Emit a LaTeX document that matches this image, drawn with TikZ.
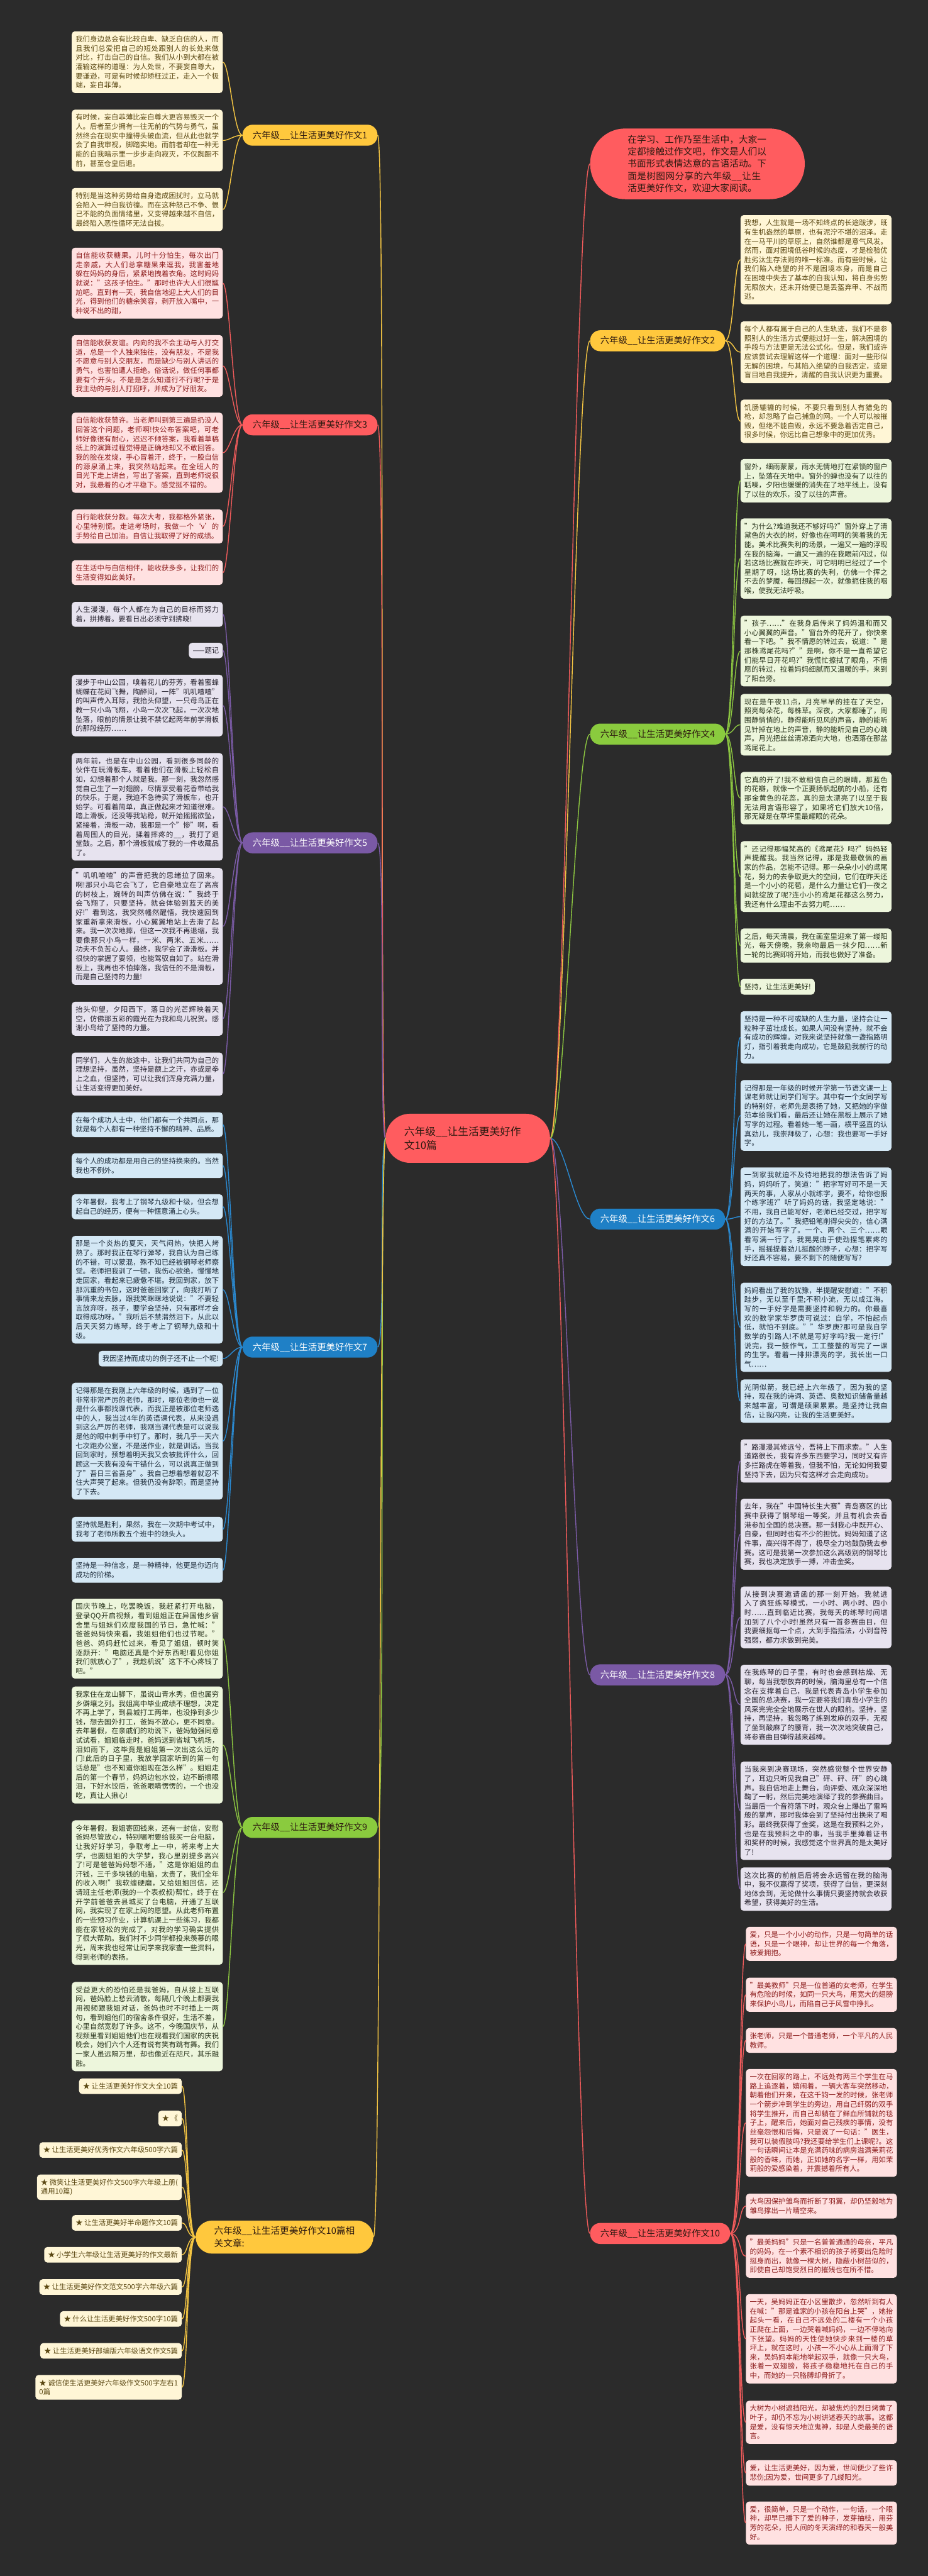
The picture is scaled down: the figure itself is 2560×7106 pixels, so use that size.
\documentclass[tikz,border=0pt]{standalone}
\usepackage{fontspec}
\setmainfont{Noto Sans CJK SC}
\XeTeXlinebreaklocale "zh"
\XeTeXlinebreakskip=0pt plus 1pt
\usepackage{xcolor}
\usetikzlibrary{positioning,calc}

\definecolor{bgdark}{HTML}{2B2B2B}
\definecolor{ybr}{HTML}{FFC83D}
\definecolor{ybox}{HTML}{FFF6D6}
\definecolor{ytxt}{HTML}{5A4712}
\definecolor{ylk}{HTML}{F5C643}
\definecolor{rbr}{HTML}{FF5C5F}
\definecolor{rbox}{HTML}{FFE1E1}
\definecolor{rtxt}{HTML}{8C1C1C}
\definecolor{rlk}{HTML}{F05B5B}
\definecolor{pbr}{HTML}{7A59A5}
\definecolor{pbox}{HTML}{E7E3EF}
\definecolor{ptxt}{HTML}{26222E}
\definecolor{plk}{HTML}{7B5BA7}
\definecolor{bbr}{HTML}{1F80C6}
\definecolor{bbox}{HTML}{D4E8F5}
\definecolor{btxt}{HTML}{1C2B3A}
\definecolor{blk}{HTML}{2A8AD2}
\definecolor{gbr}{HTML}{8ACB3E}
\definecolor{gbox}{HTML}{EDF6DC}
\definecolor{gtxt}{HTML}{27321A}
\definecolor{glk}{HTML}{8CC641}
\definecolor{darkink}{HTML}{2E1A10}

\newcommand{\leaffont}{\fontsize{11.2pt}{14.45pt}\selectfont}
\newcommand{\branchfont}{\fontsize{14.2pt}{19pt}\selectfont}

\tikzset{
  leaf/.style={rounded corners=5pt, text width=225pt, inner xsep=6pt, inner ysep=7pt, align=justify, font=\leaffont},
  chip/.style={rounded corners=5pt, inner xsep=6pt, inner ysep=7pt, font=\leaffont},
  branch/.style={rounded corners=16pt, minimum height=33pt, inner xsep=16pt, font=\branchfont},
  ytone/.style={fill=ybox, text=ytxt},
  rtone/.style={fill=rbox, text=rtxt},
  ptone/.style={fill=pbox, text=ptxt},
  btone/.style={fill=bbox, text=btxt},
  gtone/.style={fill=gbox, text=gtxt},
  link/.style={line width=1.4pt}
}

\begin{document}
\begin{tikzpicture}[x=0.2mm, y=-0.2mm]
\fill[bgdark] (0,0) rectangle (2560,7106);

\node[fill=rbr, text=darkink, rounded corners=38pt, minimum width=258pt, minimum height=77pt, text width=200pt, align=left, font=\fontsize{16.5pt}{22pt}\selectfont] (root) at (1291,3140) {六年级\_\_让生活更美好作\\文10篇};

\node[fill=rbr, text=darkink, rounded corners=55pt, minimum width=337pt, minimum height=111pt, text width=219pt, align=left, font=\fontsize{14.5pt}{19.2pt}\selectfont, anchor=west] (intro) at (1628,452) {在学习、工作乃至生活中，大家一定都接触过作文吧，作文是人们以书面形式表情达意的言语活动。下面是树图网分享的六年级\_\_让生活更美好作文，欢迎大家阅读。};

% left branches
\node[branch, fill=ybr, text=darkink, anchor=east] (e1) at (1042,373) {六年级\_\_让生活更美好作文1};
\node[branch, fill=rbr, text=darkink, anchor=east] (e3) at (1042,1172) {六年级\_\_让生活更美好作文3};
\node[branch, fill=pbr, text=white, anchor=east] (e5) at (1042,2325) {六年级\_\_让生活更美好作文5};
\node[branch, fill=bbr, text=white, anchor=east] (e7) at (1042,3716) {六年级\_\_让生活更美好作文7};
\node[branch, fill=gbr, text=darkink, anchor=east] (e9) at (1042,5041) {六年级\_\_让生活更美好作文9};
\node[fill=ybr, text=darkink, rounded corners=26pt, minimum width=279pt, minimum height=52pt, align=left, font=\fontsize{14.5pt}{19.6pt}\selectfont] (more) at (785,6171) {六年级\_\_让生活更美好作文10篇相\\关文章:};

% right branches
\node[branch, fill=ybr, text=darkink, anchor=west] (e2) at (1628,940) {六年级\_\_让生活更美好作文2};
\node[branch, fill=gbr, text=darkink, anchor=west] (e4) at (1628,2025) {六年级\_\_让生活更美好作文4};
\node[branch, fill=bbr, text=white, anchor=west] (e6) at (1628,3363) {六年级\_\_让生活更美好作文6};
\node[branch, fill=pbr, text=white, anchor=west] (e8) at (1628,4620) {六年级\_\_让生活更美好作文8};
\node[branch, fill=rbr, text=darkink, anchor=west] (e10) at (1628,6161) {六年级\_\_让生活更美好作文10};

\foreach \b/\c in {e1/ylk,e3/rlk,e5/plk,e7/blk,e9/glk,more/ylk}
  \draw[link, \c] (root.west) .. controls +(-18,0) and +(22,0) .. (\b.east);
\foreach \b/\c in {intro/rlk,e2/ylk,e4/glk,e6/blk,e8/plk,e10/rlk}
  \draw[link, \c] (root.east) .. controls +(40,0) and +(-40,0) .. (\b.west);

% essay 1
\node[leaf, ytone, anchor=north east] (e1a) at (615,86) {我们身边总会有比较自卑、缺乏自信的人，而且我们总爱把自己的短处跟别人的长处来做对比，打击自己的自信。我们从小到大都在被灌输这样的道理：为人处世，不要妄自尊大，要谦逊，可是有时候却矫枉过正，走入一个极端，妄自菲薄。};
\node[leaf, ytone, anchor=north east] (e1b) at (615,302) {有时候，妄自菲薄比妄自尊大更容易毁灭一个人。后者至少拥有一往无前的气势与勇气，虽然终会在现实中撞得头破血流，但从此也就学会了自我审视，脚踏实地。而前者却在一种无能的自我暗示里一步步走向寂灭，不仅踟蹰不前，甚至仓皇后退。};
\node[leaf, ytone, anchor=north east] (e1c) at (615,518) {特别是当这种劣势给自身造成困扰时，立马就会陷入一种自我彷徨。而在这种怒己不争、恨己不能的负面情绪里，又变得越来越不自信，最终陷入恶性循环无法自拔。};

% essay 3
\node[leaf, rtone, anchor=north east] (e3a) at (615,683) {自信能收获糖果。儿时十分怕生，每次出门走亲戚，大人们总拿糖果来逗我，我害羞地躲在妈妈的身后，紧紧地拽着衣角。这时妈妈就说："这孩子怕生。"那时也许大人们很尴尬吧。直到有一天，我自信地迎上大人们的目光，得到他们的糖余笑容，剥开放入嘴中，一种说不出的甜，};
\node[leaf, rtone, anchor=north east] (e3b) at (615,924) {自信能收获友谊。内向的我不会主动与人打交道，总是一个人独来独往，没有朋友，不是我不愿意与别人交朋友，而是缺少与别人讲话的勇气，也害怕遭人拒绝。俗话说，做任何事都要有个开头，不是是怎么知道行不行呢?于是我主动的与别人打招呼，并成为了好朋友。};
\node[leaf, rtone, anchor=north east] (e3c) at (615,1138) {自信能收获赞许。当老师叫到第三遍是扔没人回答这个问题，老师啊!快公布答案吧，可老师好像很有耐心，迟迟不倾答案，我看着草稿纸上的演算过程觉得是正确地却又不敢回答。我的脸在发烧，手心冒着汗，终于，一股自信的源泉涌上来，我突然站起来。在全班人的目光下走上讲台，写出了答案，直到老师说很对，我悬着的心才平稳下。感觉挺不错的。};
\node[leaf, rtone, anchor=north east] (e3d) at (615,1405) {自行能收获分数。每次大考，我都格外紧张，心里特别慌。走进考场时，我做一个‘v’的手势给自己加油。自信让我取得了好的成绩。};
\node[leaf, rtone, anchor=north east] (e3e) at (615,1545) {在生活中与自信相伴，能收获多多，让我们的生活变得如此美好。};

% essay 5
\node[leaf, ptone, anchor=north east] (e5a) at (615,1660) {人生漫漫，每个人都在为自己的目标而努力着，拼搏着。要看日出必须守到拂晓!};
\node[chip, ptone, anchor=north east] (e5b) at (615,1773) {——题记};
\node[leaf, ptone, anchor=north east] (e5c) at (615,1861) {漫步于中山公园，嗅着花儿的芬芳，看着蜜蜂蝴蝶在花间飞舞，陶醉间，一阵"叽叽喳喳"的叫声传入耳际，我抬头仰望，一只母鸟正在教一只小鸟飞翔，小鸟一次次飞起，一次次地坠落，眼前的情景让我不禁忆起两年前学滑板的那段经历……};
\node[leaf, ptone, anchor=north east] (e5d) at (615,2077) {两年前，也是在中山公园，看到很多同龄的伙伴在玩滑板车。看着他们在滑板上轻松自如，幻想着那个人就是我。那一刻，我忽然感觉自己生了一对翅膀，尽情享受着花香带给我的快乐，于是，我迫不急待买了滑板车，也开始学。可看着简单，真正做起来才知道很难。踏上滑板，还没等我站稳，就开始摇摇欲坠，紧接着，滑板一动，我那是一个"惨"啊，看着周围人的目光，揉着摔疼的\_\_，我打了退堂鼓。之后，那个滑板就成了我的一件收藏品了。};
\node[leaf, ptone, anchor=north east] (e5e) at (615,2394) {"叽叽喳喳"的声音把我的思绪拉了回来。啊!那只小鸟它会飞了，它自豪地立在了高高的树枝上，婉转的叫声仿佛在说："我终于会飞翔了，只要坚持，就会体验到蓝天的美好!"看到这，我突然幡然醒悟，我快速回到家重新拿来滑板，小心翼翼地站上去滑了起来。我一次次地摔，但这一次我不再退缩，我要像那只小鸟一样，一米、两米、五米……功夫不负苦心人。最终，我学会了滑滑板。并很快的掌握了要领，也能驾驭自如了。站在滑板上，我再也不怕摔落，我信任的不是滑板，而是自己坚持的力量!};
\node[leaf, ptone, anchor=north east] (e5f) at (615,2763) {抬头仰望，夕阳西下，落日的光芒辉映着天空，仿佛那五彩的霞光在为我和鸟儿祝贺。感谢小鸟给了坚持的力量。};
\node[leaf, ptone, anchor=north east] (e5g) at (615,2903) {同学们，人生的旅途中，让我们共同为自己的理想坚持，虽然，坚持是额上之汗，亦或是拳上之血，但坚持，可以让我们浑身充满力量，让生活变得更加美好。};

% essay 7
\node[leaf, btone, anchor=north east] (e7a) at (615,3068) {在每个成功人士中，他们都有一个共同点，那就是每个人都有一种坚持不懈的精神、品质。};
\node[leaf, btone, anchor=north east] (e7b) at (615,3181) {每个人的成功都是用自己的坚持换来的。当然我也不例外。};
\node[leaf, btone, anchor=north east] (e7c) at (615,3294) {今年暑假，我考上了钢琴九级和十级，但会想起自己的经历，便有一种惬意涌上心头。};
\node[leaf, btone, anchor=north east] (e7d) at (615,3409) {那是一个炎热的夏天，天气闷热，快把人烤熟了。那时我正在琴行弹琴，我自认为自己练的不错，可以蒙混，殊不知已经被钢琴老师察觉。老师把我训了一顿，我伤心欲绝，慢慢地走回家，看起来已疲惫不堪。我回到家，放下那沉重的书包，这时爸爸回家了，向我打听了事情来龙去脉，跟我笑眯眯地说说："不要轻言放弃呀，孩子，要学会坚持，只有那样才会取得成功呀。"我听后不禁潸然泪下，从此以后天天努力练琴，终于考上了钢琴九级和十级。};
\node[chip, btone, anchor=north east] (e7e) at (615,3726) {我因坚持而成功的例子还不止一个呢!};
\node[leaf, btone, anchor=north east] (e7f) at (615,3814) {记得那是在我刚上六年级的时候，遇到了一位非常非常严厉的老师，那时，哪位老师也一说是什么事都找课代表，而我正是被那位老师选中的人，我当过4年的英语课代表，从来没遇到这么严厉的老师，我刚当课代表是可以说我是他的眼中刺手中钉了。那时，我几乎一天六七次跑办公室，不是送作业，就是训话。当我回到家时，预想着明天我又会被批评什么，回顾这一天我有没有干错什么，可以说真正做到了"吾日三省吾身"。我自己想着想着就忍不住大声哭了起来。但我仍没有辞职，而是坚持了下去。};
\node[leaf, btone, anchor=north east] (e7g) at (615,4184) {坚持就是胜利，果然，我在一次期中考试中，我考了老师所教五个班中的领头人。};
\node[leaf, btone, anchor=north east] (e7h) at (615,4297) {坚持是一种信念，是一种精神，他更是你迈向成功的阶梯。};

% essay 9
\node[leaf, gtone, anchor=north east] (e9a) at (615,4410) {国庆节晚上，吃罢晚饭，我赶紧打开电脑，登录QQ开启视频，看到姐姐正在异国他乡宿舍里与姐妹们欢度我国的节日，急忙喊："爸爸妈妈快来看，我姐姐他们也过节呢。"爸爸、妈妈赶忙过来，看见了姐姐，顿时笑逐颜开："电脑还真是个好东西呢!看见你姐我们就放心了"，我趁机说"这下不心疼钱了吧。"};
\node[leaf, gtone, anchor=north east] (e9b) at (615,4652) {我家住在龙山脚下，虽说山青水秀，但也属穷乡僻壤之列。我姐高中毕业成绩不理想，决定不再上学了，到县城打工两年，也没挣到多少钱，想去国外打工，爸妈不放心，更不同意。去年暑假，在亲戚们的劝说下，爸妈勉强同意试试看，姐姐临走时，爸妈送到省城飞机场，泪如雨下，这毕竟是姐姐第一次出这么远的门!此后的日子里，我放学回家听到的第一句话总是"也不知道你姐现在怎么样"。姐姐走后的第一个春节，妈妈边包水饺，边不断擦眼泪，下好水饺后，爸爸眼睛愣愣的，一个也没吃，真让人揪心!};
\node[leaf, gtone, anchor=north east] (e9c) at (615,5021) {今年暑假，我姐寄回钱来，还有一封信，安慰爸妈尽管放心，特别嘱咐要给我买一台电脑，让我好好学习，争取考上一中，将来考上大学，也圆姐姐的大学梦，我心里别提多高兴了!可是爸爸妈妈想不通，"这是你姐姐的血汗钱，三千多块钱的电脑，太贵了，我们全年的收入啊!"我软缠硬磨，又给姐姐回信，还请班主任老师(我的一个表叔叔)帮忙，终于在开学前爸爸去县城买了台电脑，开通了互联网，我实现了在家上网的愿望。从此老师布置的一些预习作业，计算机课上一些练习，我都能在家轻松的完成了，对我的学习确实提供了很大帮助。我们村不少同学都投来羡慕的眼光，周末我也经常让同学来我家查一些资料，得到老师的表扬。};
\node[leaf, gtone, anchor=north east] (e9d) at (615,5467) {受益更大的恐怕还是我爸妈，自从接上互联网，爸妈脸上愁云消散，每隔几个晚上都要我用视频跟我姐对话，爸妈也时不时插上一两句，看到姐他们的宿舍条件很好，生活不差，心里自然宽慰了许多。这不，今晚国庆节，从视频里看到姐姐他们也在观看我们国家的庆祝晚会，她们六个人还有说有笑有跳有舞。我们一家人虽远隔万里，却也像近在咫尺，其乐融融。};

% related articles
\node[chip, ytone, anchor=north east] (m1) at (502,5733) {★ 让生活更美好作文大全10篇};
\node[chip, ytone, anchor=north east] (m2) at (502,5822) {★ 《};
\node[chip, ytone, anchor=north east] (m3) at (502,5909) {★ 让生活更美好优秀作文六年级500字六篇};
\node[chip, ytone, anchor=north east, align=left] (m4) at (502,5998) {★ 微笑让生活更美好作文500字六年级上册(\\通用10篇)};
\node[chip, ytone, anchor=north east] (m5) at (502,6110) {★ 让生活更美好半命题作文10篇};
\node[chip, ytone, anchor=north east] (m6) at (502,6198) {★ 小学生六年级让生活更美好的作文最新};
\node[chip, ytone, anchor=north east] (m7) at (502,6287) {★ 让生活更美好作文范文500字六年级六篇};
\node[chip, ytone, anchor=north east] (m8) at (502,6375) {★ 什么让生活更美好作文500字10篇};
\node[chip, ytone, anchor=north east] (m9) at (502,6463) {★ 让生活更美好部编版六年级语文作文5篇};
\node[chip, ytone, anchor=north east, align=left] (m10) at (502,6551) {★ 诚信使生活更美好六年级作文500字左右1\\0篇};

% essay 2
\node[leaf, ytone, anchor=north west] (e2a) at (2043,593) {我想，人生就是一场不知终点的长途跋涉，既有生机盎然的草原，也有泥泞不堪的沼泽。走在一马平川的草原上，自然谁都是意气风发。然而，面对困境低谷时候的态度，才是检验优胜劣汰生存法则的唯一标准。而有些时候，让我们陷入绝望的并不是困境本身，而是自己在困境中失去了基本的自我认知，将自身劣势无限放大，还未开始便已是丢盔弃甲、不战而逃。};
\node[leaf, ytone, anchor=north west] (e2b) at (2043,886) {每个人都有属于自己的人生轨迹，我们不是参照别人的生活方式便能过好一生，解决困境的手段与方法更是无法公式化。但是，我们或许应该尝试去理解这样一个道理：面对一些形似无解的困境，与其陷入绝望的自我否定，或是盲目地自我提升，清醒的自我认识更为重要。};
\node[leaf, ytone, anchor=north west] (e2c) at (2043,1102) {饥肠辘辘的时候，不要只看到别人有猎兔的枪，却忽略了自己捕鱼的网。一个人可以被摧毁，但绝不能自毁，永远不要急着否定自己，很多时候，你远比自己想象中的更加优秀。};

% essay 4
\node[leaf, gtone, anchor=north west] (e4a) at (2043,1266) {窗外，细雨蒙蒙，雨水无情地打在紧锁的窗户上，坠落在天地中。窗外的蝉也没有了以往的聒噪，夕阳也缓缓的消失在了地平线上，没有了以往的欢乐，没了以往的声音。};
\node[leaf, gtone, anchor=north west] (e4b) at (2043,1430) {"为什么?难道我还不够好吗?"窗外穿上了清黛色的大衣的树，好像也在呵呵的笑着我的无能。美术比赛失利的场景，一遍又一遍的浮现在我的脑海，一遍又一遍的在我眼前闪过，似若这场比赛就在昨天，可它明明已经过了一个星期了呀，!这场比赛的失利，仿佛一个挥之不去的梦魇，每回想起一次，就像扼住我的咽喉，使我无法呼吸。};
\node[leaf, gtone, anchor=north west] (e4c) at (2043,1698) {"孩子……"在我身后传来了妈妈温和而又小心翼翼的声音。"窗台外的花开了，你快来看一下吧。"我不情愿的转过去，说道："是那株鸢尾花吗?""是啊，你不是一直希望它们能早日开花吗?"我慌忙擦拭了眼角，不情愿的转过，拉着妈妈细腻而又温暖的手，来到了阳台旁。};
\node[leaf, gtone, anchor=north west] (e4d) at (2043,1914) {现在是午夜11点，月亮早早的挂在了天空，照亮每朵花，每株草。深夜，大家都睡了，周围静悄悄的，静得能听见风的声音，静的能听见针掉在地上的声音，静的能听见自己的心跳声。月光把丝丝清凉洒向大地，也洒落在那盆鸢尾花上。};
\node[leaf, gtone, anchor=north west] (e4e) at (2043,2129) {它真的开了!我不敢相信自己的眼睛，那蓝色的花瓣，就像一个正要扬帆起航的小船，还有那金黄色的花蕊，真的是太漂亮了!以至于我无法用言语形容了，如果将它们放大10倍，那无疑是在草坪里最耀眼的花朵。};
\node[leaf, gtone, anchor=north west] (e4f) at (2043,2320) {"还记得那幅梵高的《鸢尾花》吗?"妈妈轻声提醒我。我当然记得，那是我最敬佩的画家的作品，怎能不记得。那一朵朵小小的鸢尾花，努力的去争取更大的空间，它们在昨天还是一个小小的花苞，是什么力量让它们一夜之间就绽放了呢?连小小的鸢尾花都这么努力，我还有什么理由不去努力呢……};
\node[leaf, gtone, anchor=north west] (e4g) at (2043,2561) {之后，每天清晨，我在画室里迎来了第一缕阳光，每天傍晚，我亲吻最后一抹夕阳……新一轮的比赛即将开始，而我也做好了准备。};
\node[chip, gtone, anchor=north west] (e4h) at (2043,2700) {坚持，让生活更美好!};

% essay 6
\node[leaf, btone, anchor=north west] (e6a) at (2043,2789) {坚持是一种不可或缺的人生力量，坚持会让一粒种子茁壮成长。如果人间没有坚持，就不会有成功的辉煌。对我来说坚持就像一盏指路明灯，指引着我走向成功，它是鼓励我前行的动力。};
\node[leaf, btone, anchor=north west] (e6b) at (2043,2979) {记得那是一年级的时候开学第一节语文课一上课老师就让同学们写字。其中有一个女同学写的特别好，老师先是表扬了她，又把她的字做范本给我们看，最后还让她在黑板上展示了她写字的过程。看着她一笔一画，横平竖直的认真劲儿，我崇拜极了，心想：我也要写一手好字。};
\node[leaf, btone, anchor=north west] (e6c) at (2043,3220) {一到家我就迫不及待地把我的想法告诉了妈妈，妈妈听了，笑道："把字写好可不是一天两天的事，人家从小就练字，要不，给你也报个练字班?"听了妈妈的话，我坚定地说："不用，我自己能写好，老师已经交过，把字写好的方法了。"我把铅笔削得尖尖的，信心满满的开始写字了。一个、两个、三个……眼看写满一行了。我晃晃由于使劲捏笔累疼的手，摇摇提着劲儿挺酸的脖子，心想：把字写好还真不容易，要不剩下的随便写写?};
\node[leaf, btone, anchor=north west] (e6d) at (2043,3538) {妈妈看出了我的犹豫，半提醒安慰道："不积跬步，无以至千里;不积小流，无以成江海。写的一手好字是需要坚持和毅力的。你最喜欢的数学家华罗庚可说过：自学，不怕起点低，就怕不到底。""华罗庚?那可是我自学数学的引路人!不就是写好字吗?我一定行!"说完，我一鼓作气，工工整整的写完了一课的生字。看着一排排漂亮的字，我长出一口气……};
\node[leaf, btone, anchor=north west] (e6e) at (2043,3805) {光阴似箭，我已经上六年级了，因为我的坚持，现在我的诗词、英语、奥数知识储备量越来越丰富，可谓是硕果累累。是坚持让我自信，让我闪亮，让我的生活更美好。};

% essay 8
\node[leaf, ptone, anchor=north west] (e8a) at (2043,3970) {"路漫漫其修远兮，吾将上下而求索。"人生道路很长，我有许多东西要学习，同时又有许多拦路虎在等着我，但我不怕，无论如何我要坚持下去，因为只有这样才会走向成功。};
\node[leaf, ptone, anchor=north west] (e8b) at (2043,4134) {去年，我在"中国特长生大赛"青岛赛区的比赛中获得了钢琴组一等奖，并且有机会去香港参加全国的总决赛。那一刻我心中既开心、自豪，但同时也有不少的担忧。妈妈知道了这件事，高兴得不得了，极尽全力地鼓励我去参赛。这可是我第一次参加这么高级别的钢琴比赛，我也决定放手一搏，冲击金奖。};
\node[leaf, ptone, anchor=north west] (e8c) at (2043,4376) {从接到决赛邀请函的那一刻开始，我就进入了疯狂练琴模式，一小时、两小时、四小时……直到临近比赛，我每天的练琴时间增加到了八个小时!虽然只有一首参赛曲目，但我要细抠每一个点，大到手指指法，小到音符强弱，都力求做到完美。};
\node[leaf, ptone, anchor=north west] (e8d) at (2043,4592) {在我练琴的日子里，有时也会感到枯燥、无聊，每当我想放弃的时候，脑海里总有一个信念在支撑着自己，我是代表青岛小学生参加全国的总决赛，我一定要将我们青岛小学生的风采完完全全地展示在世人的眼前。坚持，坚持，再坚持，我忽略了练到发麻的双手，无视了坐到酸麻了的腰背，我一次次地突破自己，将参赛曲目弹得越来越棒。};
\node[leaf, ptone, anchor=north west] (e8e) at (2043,4859) {当我来到决赛现场，突然感觉整个世界安静了，耳边只听见我自己"砰、砰、砰"的心跳声。我自信地走上舞台，向评委、观众深深地鞠了一躬，然后完美地演绎了我的参赛曲目。当最后一个音符落下时，观众台上爆出了雷鸣般的掌声，那时我体会到了坚持付出换来了喝彩。最终我获得了金奖，这是在我预料之外，也是在我预料之中的事，当我手里捧着证书和奖杯的时候，我感觉这个世界真的是太美好了!};
\node[leaf, ptone, anchor=north west] (e8f) at (2043,5151) {这次比赛的前前后后将会永远留在我的脑海中，我不仅赢得了奖项，获得了自信，更深刻地体会到，无论做什么事情只要坚持就会收获希望，获得美好的生活。};

% essay 10
\node[leaf, rtone, anchor=north west] (e10a) at (2058,5315) {爱，只是一个小小的动作，只是一句简单的话语，只是一个眼神，却让世界的每一个角落，被爱拥抱。};
\node[leaf, rtone, anchor=north west] (e10b) at (2058,5455) {"最美教师"只是一位普通的女老师，在学生有危险的时候，如同一只大鸟，用宽大的翅膀来保护小鸟儿，而陷自己于风雪中挣扎。};
\node[leaf, rtone, anchor=north west] (e10c) at (2058,5594) {张老师，只是一个普通老师，一个平凡的人民教师。};
\node[leaf, rtone, anchor=north west] (e10d) at (2058,5707) {一次在回家的路上，不远处有两三个学生在马路上追逐着，嬉闹着，一辆大客车突然移动，朝着他们开来，在这千钧一发的时候，张老师一个箭步冲到学生的旁边，用自己纤弱的双手将学生推开，而自己却躺在了鲜血所铺就的毯子上，醒来后，她面对自己残疾的事情，没有丝毫怨恨和后悔，只是说了一句话："医生，我可以装假肢吗?我还要给学生们上课呢?。这一句话瞬间让本是充满药味的病房溢满茉莉花般的香味，而她，正如她的名字一样，用如茉莉般的爱感染着，并震撼着所有人。};
\node[leaf, rtone, anchor=north west] (e10e) at (2058,6051) {大鸟因保护雏鸟而折断了羽翼，却仍坚毅地为雏鸟撑出一片晴空来。};
\node[leaf, rtone, anchor=north west] (e10f) at (2058,6164) {"最美妈妈"只是一名普普通通的母亲，平凡的妈妈，在一个素不相识的孩子将要出危险时挺身而出，就像一棵大树，隐蔽小树苗似的，即使自己却饱受烈日的摧残也在所不惜。};
\node[leaf, rtone, anchor=north west] (e10g) at (2058,6328) {一天，吴妈妈正在小区里散步，忽然听到有人在喊："那是谁家的小孩在阳台上哭"，她抬起头一看，在自己不远处的二楼有一个小孩正爬在上面，一边哭着喊妈妈，一边不停地向下张望。妈妈的天性使她快步来到一楼的草坪上，就在这时，小孩一不小心从上面滑了下来，吴妈妈本能地举起双手，就像一只大鸟，张着一双翅膀，将孩子稳稳地托在自己的手中，而她的一只胳膊却骨折了。};
\node[leaf, rtone, anchor=north west] (e10h) at (2058,6622) {大树为小树遮挡阳光，却被焦灼的烈日烤黄了叶子，却仍不忘为小树讲述春天的故事。这都是爱，没有惊天地泣鬼神，却是人类最美的语言。};
\node[leaf, rtone, anchor=north west] (e10i) at (2058,6786) {爱，让生活更美好，因为爱，世间便少了些许悲伤;因为爱，世间更多了几缕阳光。};
\node[leaf, rtone, anchor=north west] (e10j) at (2058,6900) {爱，很简单，只是一个动作，一句话，一个眼神，却早已播下了爱的种子，发芽抽枝，用芬芳的花朵，把人间的冬天演绎的和春天一般美好。};

% connectors to the leaves
\foreach \n in {e1a,e1b,e1c}
  \draw[link, ylk] (e1.west) .. controls +(-24,0) and +(18,0) .. (\n.east);
\foreach \n in {e3a,e3b,e3c,e3d,e3e}
  \draw[link, rlk] (e3.west) .. controls +(-24,0) and +(18,0) .. (\n.east);
\foreach \n in {e5a,e5b,e5c,e5d,e5e,e5f,e5g}
  \draw[link, plk] (e5.west) .. controls +(-24,0) and +(18,0) .. (\n.east);
\foreach \n in {e7a,e7b,e7c,e7d,e7e,e7f,e7g,e7h}
  \draw[link, blk] (e7.west) .. controls +(-24,0) and +(18,0) .. (\n.east);
\foreach \n in {e9a,e9b,e9c,e9d}
  \draw[link, glk] (e9.west) .. controls +(-24,0) and +(18,0) .. (\n.east);
\foreach \n in {m1,m2,m3,m4,m5,m6,m7,m8,m9,m10}
  \draw[link, ylk] (more.west) .. controls +(-24,0) and +(16,0) .. (\n.east);
\foreach \n in {e2a,e2b,e2c}
  \draw[link, ylk] (e2.east) .. controls +(24,0) and +(-18,0) .. (\n.west);
\foreach \n in {e4a,e4b,e4c,e4d,e4e,e4f,e4g,e4h}
  \draw[link, glk] (e4.east) .. controls +(24,0) and +(-18,0) .. (\n.west);
\foreach \n in {e6a,e6b,e6c,e6d,e6e}
  \draw[link, blk] (e6.east) .. controls +(24,0) and +(-18,0) .. (\n.west);
\foreach \n in {e8a,e8b,e8c,e8d,e8e,e8f}
  \draw[link, plk] (e8.east) .. controls +(24,0) and +(-18,0) .. (\n.west);
\foreach \n in {e10a,e10b,e10c,e10d,e10e,e10f,e10g,e10h,e10i,e10j}
  \draw[link, rlk] (e10.east) .. controls +(30,0) and +(-18,0) .. (\n.west);
\end{tikzpicture}
\end{document}
